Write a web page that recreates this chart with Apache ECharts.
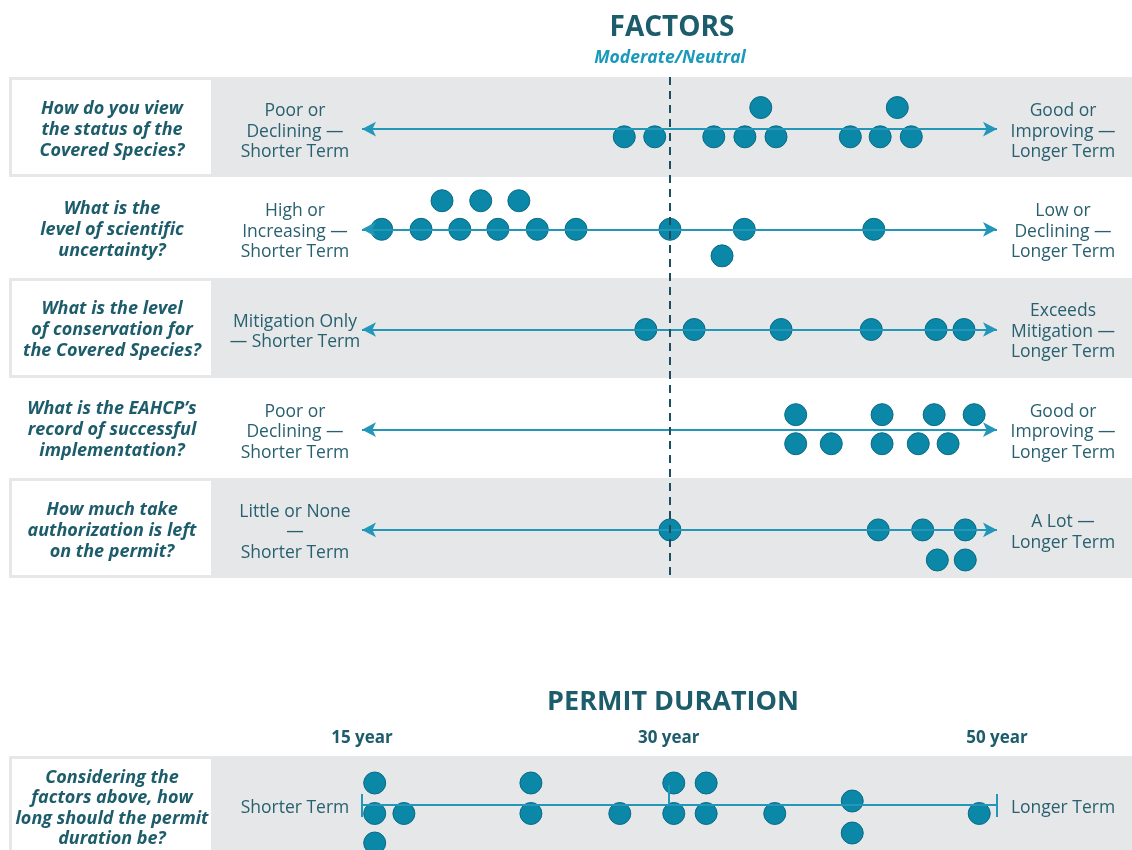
<!DOCTYPE html>
<html>
<head>
<meta charset="utf-8">
<title>Factors and permit duration</title>
<script src="https://cdn.jsdelivr.net/npm/echarts@6/dist/echarts.min.js"></script>
<style>
  html, body { margin: 0; padding: 0; background: #fff; }
  #chart { width: 1132px; height: 850px; }
</style>
</head>
<body>
<div id="chart"></div>
<script>
// ---- data ----
const questions = [
  'How do you view\nthe status of the\nCovered Species?',
  'What is the\nlevel of scientific\nuncertainty?',
  'What is the level\nof conservation for\nthe Covered Species?',
  'What is the EAHCP\u2019s\nrecord of successful\nimplementation?',
  'How much take\nauthorization is left\non the permit?'
];
const shorterLabels = [
  'Poor or\nDeclining \u2014\nShorter Term',
  'High or\nIncreasing \u2014\nShorter Term',
  'Mitigation Only\n\u2014 Shorter Term',
  'Poor or\nDeclining \u2014\nShorter Term',
  'Little or None\n\u2014\nShorter Term'
];
const longerLabels = [
  'Good or\nImproving \u2014\nLonger Term',
  'Low or\nDeclining \u2014\nLonger Term',
  'Exceeds\nMitigation \u2014\nLonger Term',
  'Good or\nImproving \u2014\nLonger Term',
  'A Lot \u2014\nLonger Term'
];
const neutralPos = 48.5;
const neutralLabel = 'Moderate/Neutral';

// [position on the 0-100 scale, vertical offset from the row line]
const speciesStatus = [[41.3, 0.077], [46.1, 0.077], [55.4, 0.077], [60.3, 0.077], [65.2, 0.077],
  [76.9, 0.077], [81.6, 0.077], [86.5, 0.077], [62.8, -0.215], [84.3, -0.215]];
const uncertainty = [[3.1, 0], [9.3, 0], [15.4, 0], [21.4, 0], [27.6, 0], [33.7, 0], [48.5, 0],
  [60.2, 0], [80.6, 0], [12.6, -0.285], [18.7, -0.285], [24.7, -0.285], [56.7, 0.265]];
const conservation = [[44.7, 0], [52.3, 0], [66.0, 0], [80.2, 0], [90.4, 0], [94.8, 0]];
const implementation = [[68.3, -0.15], [81.9, -0.15], [90.1, -0.15], [96.4, -0.15],
  [68.3, 0.14], [73.9, 0.14], [81.9, 0.14], [87.6, 0.14], [92.3, 0.14]];
const takeLeft = [[48.5, 0], [81.3, 0], [88.3, 0], [95.0, 0], [90.6, 0.3], [95.0, 0.3]];
const factorDots = [speciesStatus, uncertainty, conservation, implementation, takeLeft];

const durationQuestion = 'Considering the\nfactors above, how\nlong should the permit\nduration be?';
const durationTickPos = [0, 48.3, 100];
const durationTickLabels = ['15 year', '30 year', '50 year'];
const duration = [[2.0, -0.22], [2.0, 0.085], [2.0, 0.38], [6.6, 0.085], [26.6, -0.22], [26.6, 0.085],
  [40.6, 0.085], [49.1, -0.22], [49.1, 0.085], [54.2, -0.22], [54.2, 0.085], [65.0, 0.085],
  [77.2, -0.04], [77.2, 0.28], [97.2, 0.085]];

// ---- style ----
const TEAL = '#0b87a8';
const TEAL_DARK = '#0a6a84';
const LINE = '#2297b9';
const INK = '#1d5c6b';
const GREY = '#e6e7e9';
const FONT = '"Open Sans", sans-serif';

const chart = echarts.init(document.getElementById('chart'));

const dotStyle = {
  symbol: 'circle',
  symbolSize: 22,
  itemStyle: { color: TEAL, borderColor: TEAL_DARK, borderWidth: 1, opacity: 1 },
  z: 3,
  silent: true
};

// a value y axis that only shows the given texts at the given heights
function labelAxis(gridIndex, max, texts, at, position, margin, labelStyle) {
  return {
    type: 'value', gridIndex: gridIndex, min: 0, max: max, inverse: true, position: position,
    axisLine: { show: false, onZero: false }, axisTick: { show: false }, splitLine: { show: false },
    axisLabel: Object.assign({
      customValues: at, formatter: v => texts[at.indexOf(v)] || '',
      margin: margin, align: 'center', fontFamily: FONT
    }, labelStyle)
  };
}

const questionStyle = { color: INK, fontSize: 18, fontWeight: 'bold', fontStyle: 'italic', lineHeight: 21 };
const endStyle = { color: '#28606f', fontSize: 17.5, lineHeight: 20.5 };

const rowLineY = questions.map((q, i) => i + 0.52);
const questionY = questions.map((q, i) => i + 0.525);
const endLabelY = questions.map((q, i) => i + 0.545);
const rowLines = rowLineY.map(y => [{ coord: [0, y] }, { coord: [100, y] }]);

const option = {
  animation: false,
  graphic: [
    ...[77, 278, 478, 756].map(t => ({
      type: 'rect', z: -10, silent: true, shape: { x: 9, y: t, width: 1123, height: 100 }, style: { fill: GREY }
    })),
    ...[77, 278, 478, 756].map(t => ({
      type: 'rect', z: -9, silent: true, shape: { x: 12, y: t + 3, width: 199, height: 94 }, style: { fill: '#fff' }
    })),
    { type: 'text', x: 672, y: 28, style: { text: 'FACTORS', fill: INK, font: 'bold 28px ' + FONT, textAlign: 'center', textVerticalAlign: 'middle' } },
    { type: 'text', x: 673, y: 702, style: { text: 'PERMIT DURATION', fill: INK, font: 'bold 27px ' + FONT, textAlign: 'center', textVerticalAlign: 'middle' } }
  ],
  grid: [
    { left: 362, width: 635, top: 77, height: 501, outerBoundsMode: 'none' },
    { left: 362, width: 635, top: 755, height: 100, outerBoundsMode: 'none' }
  ],
  xAxis: [
    {
      type: 'value', gridIndex: 0, min: 0, max: 100, position: 'top',
      axisLine: { show: false, onZero: false }, axisTick: { show: false }, splitLine: { show: false },
      axisLabel: {
        customValues: [neutralPos], formatter: () => neutralLabel, margin: 19, verticalAlign: 'middle',
        color: '#1a9abb', fontFamily: FONT, fontSize: 17.5, fontWeight: 'bold', fontStyle: 'italic'
      }
    },
    {
      type: 'value', gridIndex: 1, min: 0, max: 100, position: 'top',
      axisLine: { show: false, onZero: false }, axisTick: { show: false }, splitLine: { show: false },
      axisLabel: {
        customValues: durationTickPos, formatter: v => durationTickLabels[durationTickPos.indexOf(v)],
        margin: 17, verticalAlign: 'middle', color: INK, fontFamily: FONT, fontSize: 17, fontWeight: 'bold'
      }
    }
  ],
  yAxis: [
    { type: 'value', gridIndex: 0, min: 0, max: 5, inverse: true, show: false },
    labelAxis(0, 5, questions, questionY, 'left', 250, questionStyle),
    labelAxis(0, 5, shorterLabels, endLabelY, 'left', 67, endStyle),
    labelAxis(0, 5, longerLabels, endLabelY, 'right', 66, endStyle),
    { type: 'value', gridIndex: 1, min: 0, max: 1, inverse: true, show: false },
    labelAxis(1, 1, [durationQuestion], [0.535], 'left', 250, Object.assign({}, questionStyle, { lineHeight: 20.3 })),
    labelAxis(1, 1, ['Shorter Term'], [0.535], 'left', 67, endStyle),
    labelAxis(1, 1, ['Longer Term'], [0.535], 'right', 66, endStyle)
  ],
  series: [
    // arrows for each factor row
    {
      type: 'scatter', xAxisIndex: 0, yAxisIndex: 0, data: [], z: 1, silent: true,
      markLine: {
        silent: true, animation: false, symbol: ['arrow', 'arrow'], symbolSize: [11, 14],
        label: { show: false }, lineStyle: { color: LINE, width: 2, type: 'solid' },
        data: rowLines
      }
    },
    // neutral dashed line
    {
      type: 'scatter', xAxisIndex: 0, yAxisIndex: 0, data: [], z: 2, silent: true,
      markLine: {
        silent: true, animation: false, symbol: 'none', label: { show: false },
        lineStyle: { color: '#1b4f5f', width: 2, type: [8, 6] },
        data: [{ xAxis: neutralPos }]
      }
    },
    ...factorDots.map((pts, i) => Object.assign({
      type: 'scatter', name: questions[i].replace(/\n/g, ' '), xAxisIndex: 0, yAxisIndex: 0,
      data: pts.map(p => [p[0], rowLineY[i] + p[1]])
    }, dotStyle)),
    // duration scale
    {
      type: 'scatter', xAxisIndex: 1, yAxisIndex: 4, data: [], z: 1, silent: true,
      markLine: {
        silent: true, animation: false, symbol: 'none', label: { show: false },
        lineStyle: { color: LINE, width: 2, type: 'solid' },
        data: [
          [{ coord: [durationTickPos[0], 0.5] }, { coord: [durationTickPos[2], 0.5] }],
          [{ coord: [durationTickPos[0], 0.39] }, { coord: [durationTickPos[0], 0.62] }],
          [{ coord: [durationTickPos[2], 0.39] }, { coord: [durationTickPos[2], 0.62] }],
          [{ coord: [durationTickPos[1], 0.3] }, { coord: [durationTickPos[1], 0.5] }]
        ]
      }
    },
    Object.assign({
      type: 'scatter', name: 'Permit duration', xAxisIndex: 1, yAxisIndex: 4,
      data: duration.map(p => [p[0], 0.5 + p[1]])
    }, dotStyle)
  ]
};

chart.setOption(option);
</script>
</body>
</html>
